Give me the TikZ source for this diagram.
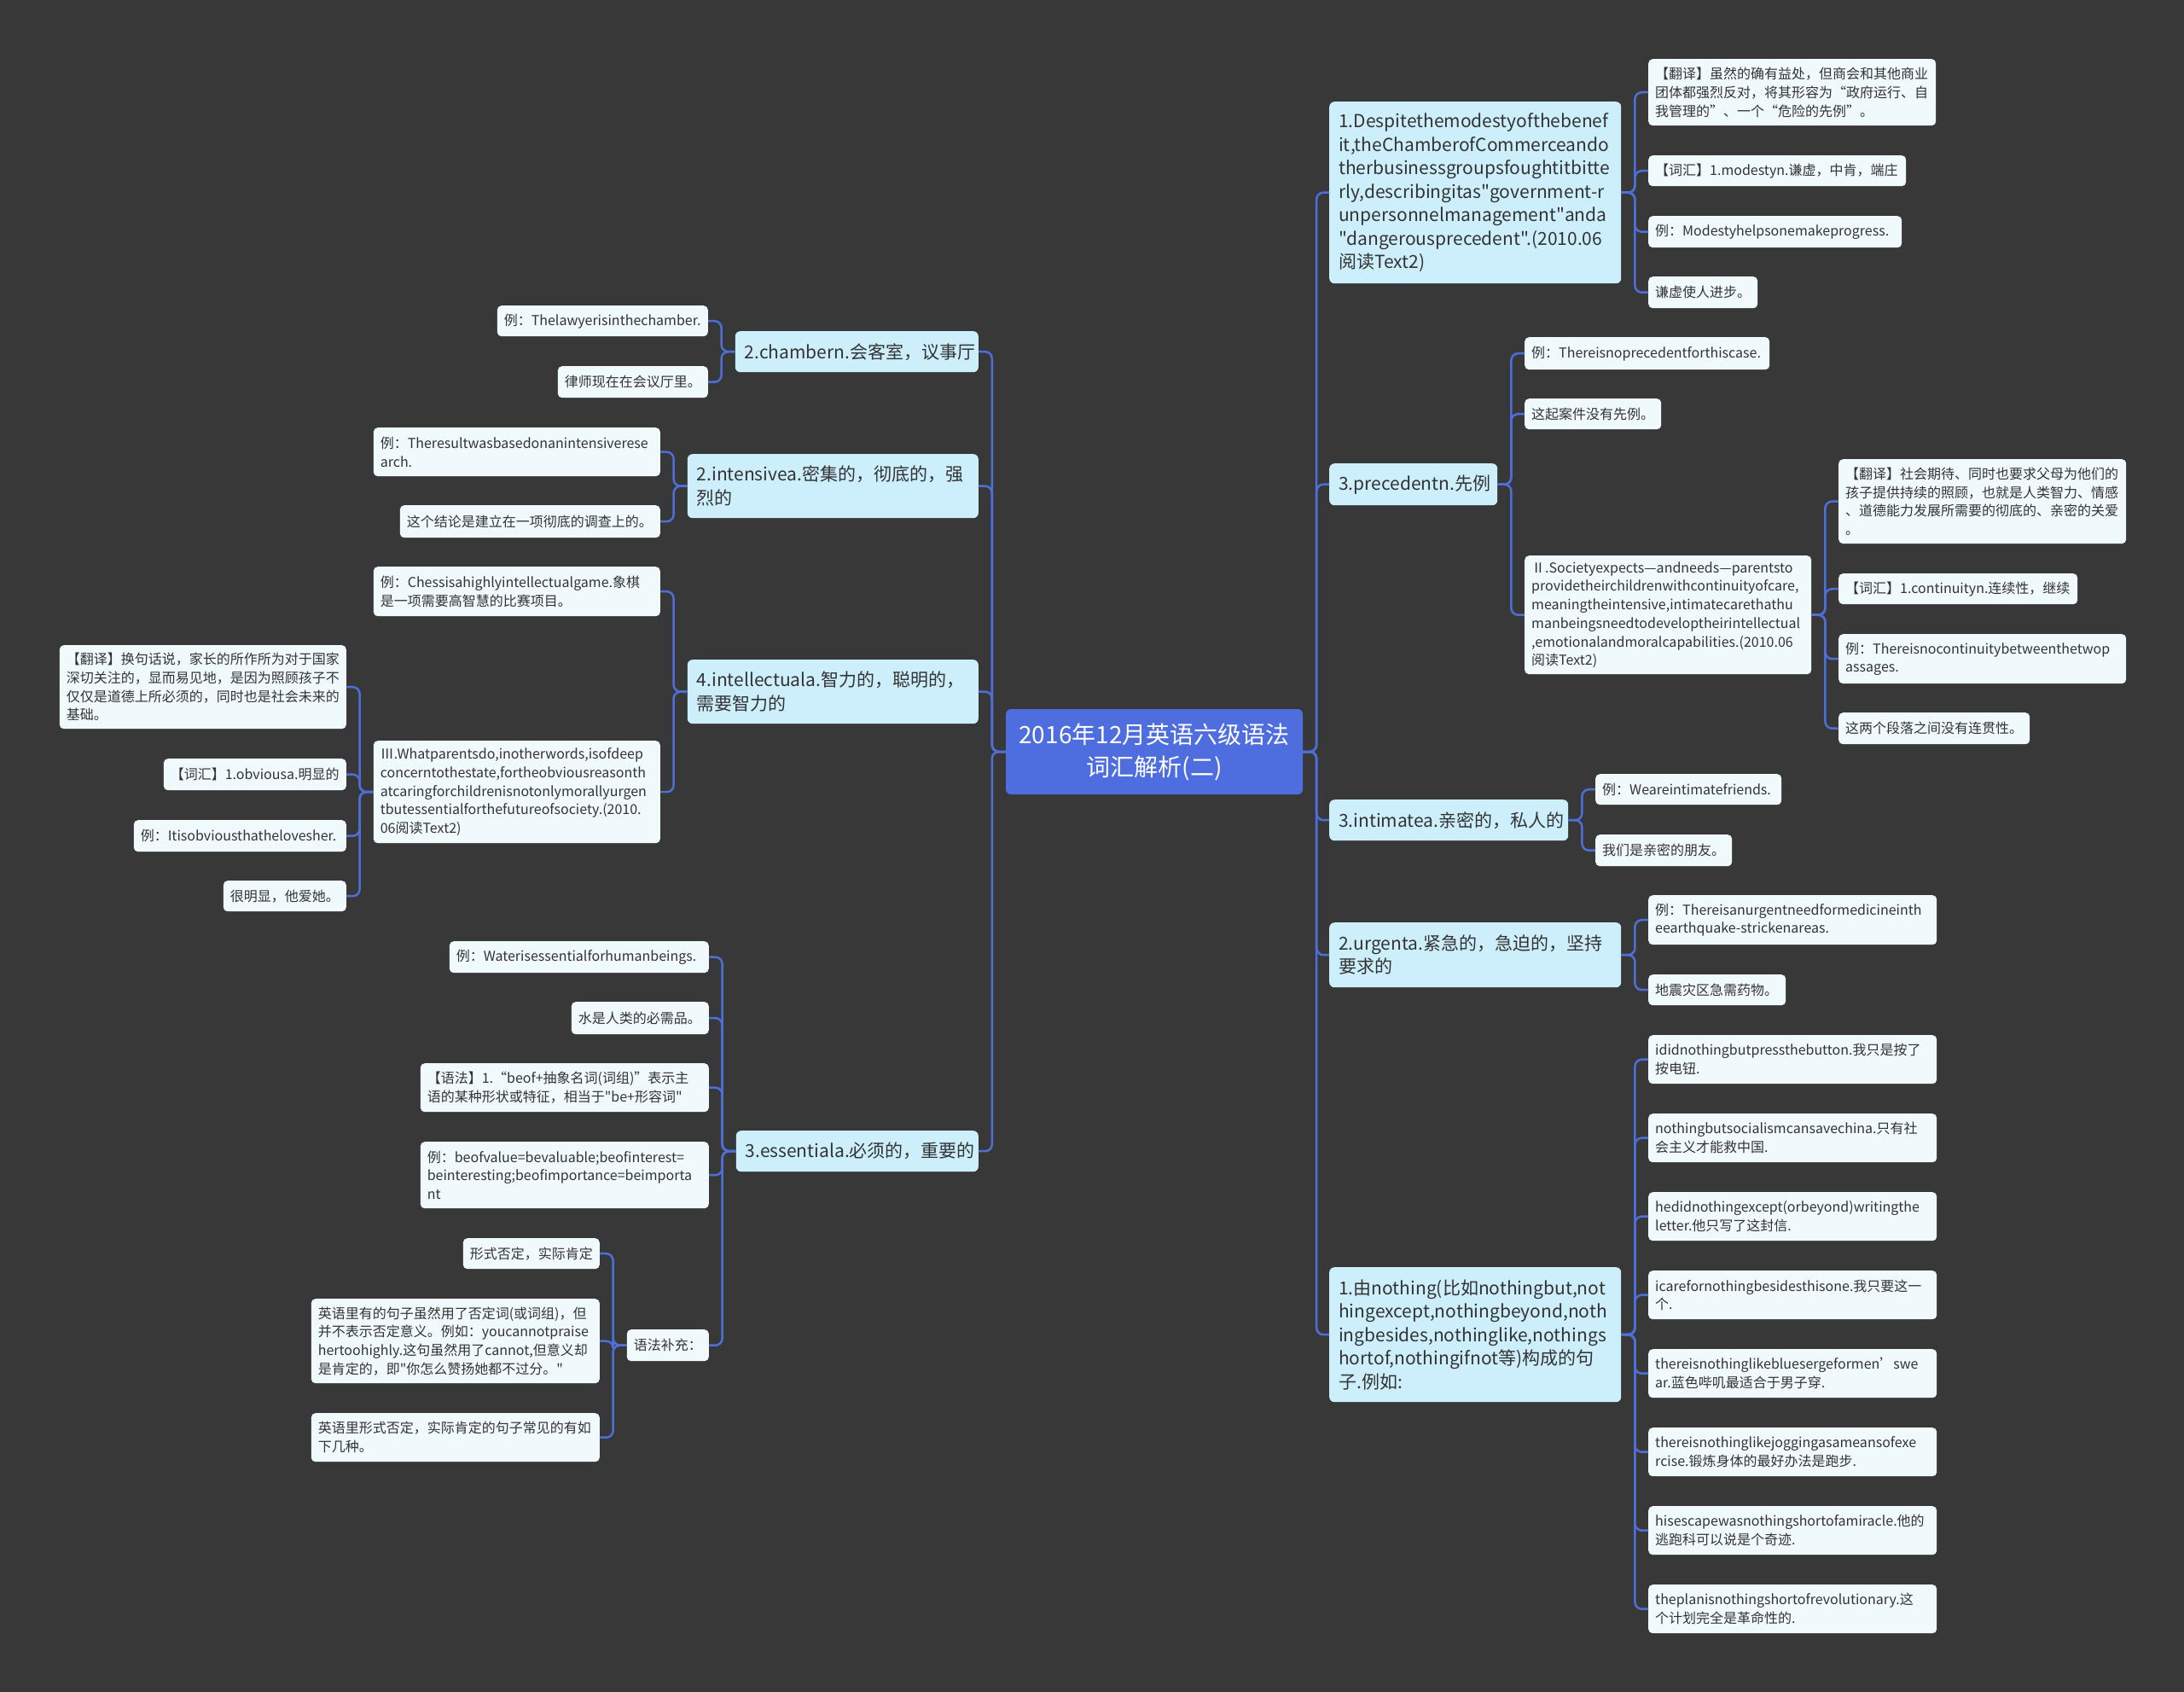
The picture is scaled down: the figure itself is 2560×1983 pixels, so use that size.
\documentclass[tikz,border=0pt]{standalone}
\usepackage{fontspec}
\usepackage{xcolor}
\usepackage{tikz}
\usetikzlibrary{positioning}
\newfontfamily\cjk{Noto Sans CJK SC}
\definecolor{bggray}{HTML}{383838}
\definecolor{linkblue}{HTML}{4F6FD8}
\definecolor{rootblue}{HTML}{4E6EDF}
\definecolor{topicblue}{HTML}{CDEFFC}
\definecolor{leafwhite}{HTML}{F0FAFD}
\definecolor{inkgray}{HTML}{333333}
\hyphenpenalty=10000
\exhyphenpenalty=10000

\begin{document}
\begin{tikzpicture}[x=1pt,y=-1pt,
  root/.style={fill=rootblue,rounded corners=6pt,align=center,text=white,minimum width=348pt,minimum height=100pt,font={\cjk\fontsize{28}{38}\selectfont}},
  topic/.style={fill=topicblue,rounded corners=6pt,align=left,text=inkgray,inner xsep=11pt,inner ysep=0pt,font={\cjk\fontsize{21}{27.5}\selectfont}},
  leaf/.style={fill=leafwhite,rounded corners=5pt,align=left,text=inkgray,inner xsep=8pt,inner ysep=0pt,font={\cjk\fontsize{16}{21.7}\selectfont}},
  link/.style={draw=linkblue,line width=2.5pt,rounded corners=8pt}
]
\fill[bggray] (0,0) rectangle (2560,1983);
\node[root] (root) at (1353,881) {2016年12月英语六级语法\\词汇解析(二)};

\node[topic,anchor=north west,text width=320pt,minimum height=213pt] (despite) at (1558,119) {1.Despitethemodestyofthebenef\\it,theChamberofCommerceando\\therbusinessgroupsfoughtitbitte\\rly,describingitas"government-r\\unpersonnelmanagement"anda\\"dangerousprecedent".(2010.06\\阅读Text2)};
\node[leaf,anchor=north west,text width=321pt,minimum height=78pt] (modtrans) at (1932,69) {【翻译】虽然的确有益处，但商会和其他商业\\团体都强烈反对，将其形容为“政府运行、自\\我管理的”、一个“危险的先例”。};
\node[leaf,anchor=north west,text width=286pt,minimum height=36pt] (modvocab) at (1932,182) {【词汇】1.modestyn.谦虚，中肯，端庄};
\node[leaf,anchor=north west,text width=281pt,minimum height=37pt] (modex) at (1932,253) {例：Modestyhelpsonemakeprogress.};
\node[leaf,anchor=north west,text width=112pt,minimum height=37pt] (modcn) at (1932,324) {谦虚使人进步。};

\node[topic,anchor=north west,text width=175pt,minimum height=49pt] (precedent) at (1558,543) {3.precedentn.先例};
\node[leaf,anchor=north west,text width=271pt,minimum height=38pt] (precex) at (1787,395) {例：Thereisnoprecedentforthiscase.};
\node[leaf,anchor=north west,text width=144pt,minimum height=36pt] (preccn) at (1787,467) {这起案件没有先例。};
\node[leaf,anchor=north west,text width=320pt,minimum height=139pt] (society) at (1787,651) {Ⅱ.Societyexpects—andneeds—parentsto\\providetheirchildrenwithcontinuityofcare,\\meaningtheintensive,intimatecarethathu\\manbeingsneedtodeveloptheirintellectual\\,emotionalandmoralcapabilities.(2010.06\\阅读Text2)};
\node[leaf,anchor=north west,text width=321pt,minimum height=99pt] (soctrans) at (2155,538) {【翻译】社会期待、同时也要求父母为他们的\\孩子提供持续的照顾，也就是人类智力、情感\\、道德能力发展所需要的彻底的、亲密的关爱\\。};
\node[leaf,anchor=north west,text width=264pt,minimum height=36pt] (socvocab) at (2155,672) {【词汇】1.continuityn.连续性，继续};
\node[leaf,anchor=north west,text width=321pt,minimum height=58pt] (socex) at (2155,743) {例：Thereisnocontinuitybetweenthetwop\\assages.};
\node[leaf,anchor=north west,text width=208pt,minimum height=37pt] (soccn) at (2155,835) {这两个段落之间没有连贯性。};

\node[topic,anchor=north west,text width=258pt,minimum height=48pt] (intimate) at (1558,937) {3.intimatea.亲密的，私人的};
\node[leaf,anchor=north west,text width=202pt,minimum height=36pt] (intex) at (1870,907) {例：Weareintimatefriends.};
\node[leaf,anchor=north west,text width=144pt,minimum height=37pt] (intcn) at (1870,978) {我们是亲密的朋友。};

\node[topic,anchor=north west,text width=320pt,minimum height=76pt] (urgent) at (1558,1081) {2.urgenta.紧急的，急迫的，坚持\\要求的};
\node[leaf,anchor=north west,text width=322pt,minimum height=58pt] (urgex) at (1932,1049) {例：Thereisanurgentneedformedicineinth\\eearthquake-strickenareas.};
\node[leaf,anchor=north west,text width=145pt,minimum height=36pt] (urgcn) at (1932,1142) {地震灾区急需药物。};

\node[topic,anchor=north west,text width=320pt,minimum height=158pt] (nothing) at (1558,1485) {1.由nothing(比如nothingbut,not\\hingexcept,nothingbeyond,noth\\ingbesides,nothinglike,nothings\\hortof,nothingifnot等)构成的句\\子.例如:};
\node[leaf,anchor=north west,text width=322pt,minimum height=57pt] (nbutton) at (1932,1213) {ididnothingbutpressthebutton.我只是按了\\按电钮.};
\node[leaf,anchor=north west,text width=322pt,minimum height=57pt] (nchina) at (1932,1305) {nothingbutsocialismcansavechina.只有社\\会主义才能救中国.};
\node[leaf,anchor=north west,text width=322pt,minimum height=57pt] (nletter) at (1932,1397) {hedidnothingexcept(orbeyond)writingthe\\letter.他只写了这封信.};
\node[leaf,anchor=north west,text width=322pt,minimum height=57pt] (nthisone) at (1932,1489) {icarefornothingbesidesthisone.我只要这一\\个.};
\node[leaf,anchor=north west,text width=322pt,minimum height=57pt] (nserge) at (1932,1581) {thereisnothinglikebluesergeformen’swe\\ar.蓝色哔叽最适合于男子穿.};
\node[leaf,anchor=north west,text width=322pt,minimum height=57pt] (njogging) at (1932,1673) {thereisnothinglikejoggingasameansofexe\\rcise.锻炼身体的最好办法是跑步.};
\node[leaf,anchor=north west,text width=322pt,minimum height=57pt] (nmiracle) at (1932,1765) {hisescapewasnothingshortofamiracle.他的\\逃跑科可以说是个奇迹.};
\node[leaf,anchor=north west,text width=322pt,minimum height=57pt] (nplan) at (1932,1857) {theplanisnothingshortofrevolutionary.这\\个计划完全是革命性的.};

\node[topic,anchor=north east,text width=263pt,minimum height=48pt] (chamber) at (1147,388) {2.chambern.会客室，议事厅};
\node[leaf,anchor=north east,text width=231pt,minimum height=36pt] (chamex) at (830,358) {例：Thelawyerisinthechamber.};
\node[leaf,anchor=north east,text width=160pt,minimum height=37pt] (chamcn) at (830,429) {律师现在在会议厅里。};

\node[topic,anchor=north east,text width=319pt,minimum height=75pt] (intensive) at (1147,532) {2.intensivea.密集的，彻底的，强\\烈的};
\node[leaf,anchor=north east,text width=320pt,minimum height=57pt] (intsex) at (774,501) {例：Theresultwasbasedonanintensiverese\\arch.};
\node[leaf,anchor=north east,text width=289pt,minimum height=38pt] (intscn) at (774,592) {这个结论是建立在一项彻底的调查上的。};

\node[topic,anchor=north east,text width=319pt,minimum height=75pt] (intellectual) at (1147,773) {4.intellectuala.智力的，聪明的，\\需要智力的};
\node[leaf,anchor=north east,text width=320pt,minimum height=58pt] (chess) at (774,664) {例：Chessisahighlyintellectualgame.象棋\\是一项需要高智慧的比赛项目。};
\node[leaf,anchor=north east,text width=320pt,minimum height=120pt] (whatparents) at (774,868) {Ⅲ.Whatparentsdo,inotherwords,isofdeep\\concerntothestate,fortheobviousreasonth\\atcaringforchildrenisnotonlymorallyurgen\\tbutessentialforthefutureofsociety.(2010.\\06阅读Text2)};
\node[leaf,anchor=north east,text width=320pt,minimum height=98pt] (wptrans) at (406,756) {【翻译】换句话说，家长的所作所为对于国家\\深切关注的，显而易见地，是因为照顾孩子不\\仅仅是道德上所必须的，同时也是社会未来的\\基础。};
\node[leaf,anchor=north east,text width=198pt,minimum height=37pt] (wpvocab) at (406,889) {【词汇】1.obviousa.明显的};
\node[leaf,anchor=north east,text width=233pt,minimum height=37pt] (wpex) at (406,961) {例：Itisobviousthathelovesher.};
\node[leaf,anchor=north east,text width=128pt,minimum height=36pt] (wpcn) at (406,1032) {很明显，他爱她。};

\node[topic,anchor=north east,text width=262pt,minimum height=48pt] (essential) at (1147,1325) {3.essentiala.必须的，重要的};
\node[leaf,anchor=north east,text width=288pt,minimum height=37pt] (waterex) at (831,1103) {例：Waterisessentialforhumanbeings.};
\node[leaf,anchor=north east,text width=145pt,minimum height=38pt] (watercn) at (831,1174) {水是人类的必需品。};
\node[leaf,anchor=north east,text width=322pt,minimum height=57pt] (grammar) at (831,1246) {【语法】1.“beof+抽象名词(词组)”表示主\\语的某种形状或特征，相当于"be+形容词"};
\node[leaf,anchor=north east,text width=322pt,minimum height=78pt] (beofex) at (831,1338) {例：beofvalue=bevaluable;beofinterest=\\beinteresting;beofimportance=beimporta\\nt};
\node[leaf,anchor=north east,text width=80pt,minimum height=37pt] (supplement) at (831,1558) {语法补充：};
\node[leaf,anchor=north east,text width=144pt,minimum height=36pt] (supneg) at (703,1451) {形式否定，实际肯定};
\node[leaf,anchor=north east,text width=322pt,minimum height=99pt] (supexplain) at (703,1522) {英语里有的句子虽然用了否定词(或词组)，但\\并不表示否定意义。例如：youcannotpraise\\hertoohighly.这句虽然用了cannot,但意义却\\是肯定的，即"你怎么赞扬她都不过分。"};
\node[leaf,anchor=north east,text width=322pt,minimum height=57pt] (supkinds) at (703,1656) {英语里形式否定，实际肯定的句子常见的有如\\下几种。};

\draw[link] (root.east) -- ++(16,0) |- (despite.west);
\draw[link] (root.east) -- ++(16,0) |- (precedent.west);
\draw[link] (root.east) -- ++(16,0) |- (intimate.west);
\draw[link] (root.east) -- ++(16,0) |- (urgent.west);
\draw[link] (root.east) -- ++(16,0) |- (nothing.west);
\draw[link] (root.west) -- ++(-16,0) |- (chamber.east);
\draw[link] (root.west) -- ++(-16,0) |- (intensive.east);
\draw[link] (root.west) -- ++(-16,0) |- (intellectual.east);
\draw[link] (root.west) -- ++(-16,0) |- (essential.east);

\draw[link] (despite.east) -- ++(16,0) |- (modtrans.west);
\draw[link] (despite.east) -- ++(16,0) |- (modvocab.west);
\draw[link] (despite.east) -- ++(16,0) |- (modex.west);
\draw[link] (despite.east) -- ++(16,0) |- (modcn.west);
\draw[link] (precedent.east) -- ++(16,0) |- (precex.west);
\draw[link] (precedent.east) -- ++(16,0) |- (preccn.west);
\draw[link] (precedent.east) -- ++(16,0) |- (society.west);
\draw[link] (society.east) -- ++(16,0) |- (soctrans.west);
\draw[link] (society.east) -- ++(16,0) |- (socvocab.west);
\draw[link] (society.east) -- ++(16,0) |- (socex.west);
\draw[link] (society.east) -- ++(16,0) |- (soccn.west);
\draw[link] (intimate.east) -- ++(16,0) |- (intex.west);
\draw[link] (intimate.east) -- ++(16,0) |- (intcn.west);
\draw[link] (urgent.east) -- ++(16,0) |- (urgex.west);
\draw[link] (urgent.east) -- ++(16,0) |- (urgcn.west);
\draw[link] (nothing.east) -- ++(16,0) |- (nbutton.west);
\draw[link] (nothing.east) -- ++(16,0) |- (nchina.west);
\draw[link] (nothing.east) -- ++(16,0) |- (nletter.west);
\draw[link] (nothing.east) -- ++(16,0) |- (nthisone.west);
\draw[link] (nothing.east) -- ++(16,0) |- (nserge.west);
\draw[link] (nothing.east) -- ++(16,0) |- (njogging.west);
\draw[link] (nothing.east) -- ++(16,0) |- (nmiracle.west);
\draw[link] (nothing.east) -- ++(16,0) |- (nplan.west);

\draw[link] (chamber.west) -- ++(-16,0) |- (chamex.east);
\draw[link] (chamber.west) -- ++(-16,0) |- (chamcn.east);
\draw[link] (intensive.west) -- ++(-16,0) |- (intsex.east);
\draw[link] (intensive.west) -- ++(-16,0) |- (intscn.east);
\draw[link] (intellectual.west) -- ++(-16,0) |- (chess.east);
\draw[link] (intellectual.west) -- ++(-16,0) |- (whatparents.east);
\draw[link] (whatparents.west) -- ++(-16,0) |- (wptrans.east);
\draw[link] (whatparents.west) -- ++(-16,0) |- (wpvocab.east);
\draw[link] (whatparents.west) -- ++(-16,0) |- (wpex.east);
\draw[link] (whatparents.west) -- ++(-16,0) |- (wpcn.east);
\draw[link] (essential.west) -- ++(-16,0) |- (waterex.east);
\draw[link] (essential.west) -- ++(-16,0) |- (watercn.east);
\draw[link] (essential.west) -- ++(-16,0) |- (grammar.east);
\draw[link] (essential.west) -- ++(-16,0) |- (beofex.east);
\draw[link] (essential.west) -- ++(-16,0) |- (supplement.east);
\draw[link] (supplement.west) -- ++(-16,0) |- (supneg.east);
\draw[link] (supplement.west) -- ++(-16,0) |- (supexplain.east);
\draw[link] (supplement.west) -- ++(-16,0) |- (supkinds.east);
\end{tikzpicture}
\end{document}
